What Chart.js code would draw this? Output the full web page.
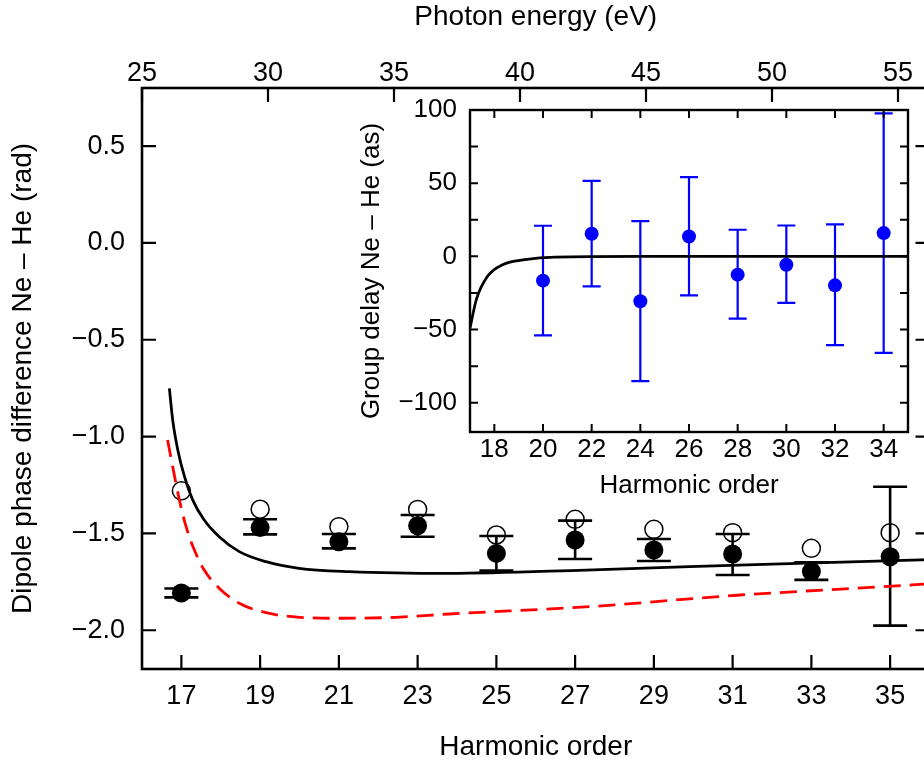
<!DOCTYPE html>
<html>
<head>
<meta charset="utf-8">
<script src="https://cdn.jsdelivr.net/npm/chart.js@4"></script>
<style>
  html, body { margin: 0; padding: 0; background: #fff; }
  body { width: 924px; height: 764px; overflow: hidden; position: relative; }
  #main { position: absolute; left: 0; top: 0; }
  #inset { position: absolute; left: 340px; top: 95px; }
</style>
</head>
<body>
<canvas id="main" width="940" height="764"></canvas>
<canvas id="inset" width="578" height="406"></canvas>
<script>
// main panel: dipole phase difference Ne - He (rad) vs harmonic order
const harmonics = [17, 19, 21, 23, 25, 27, 29, 31, 33, 35];
const phaseFilled = [-1.808, -1.47, -1.543, -1.46, -1.603, -1.534, -1.586, -1.606, -1.697, -1.62];
const phaseLow = [-1.83, -1.505, -1.577, -1.517, -1.692, -1.632, -1.642, -1.715, -1.74, -1.976];
const phaseHigh = [-1.784, -1.427, -1.503, -1.405, -1.513, -1.434, -1.529, -1.503, -1.649, -1.259];
const phaseOpen = [-1.28, -1.375, -1.465, -1.376, -1.508, -1.427, -1.479, -1.496, -1.577, -1.496];

// theory curves
const solidCurveX = [16.695, 16.78, 16.91, 17.08, 17.29, 17.58, 17.96, 18.47, 19.15, 19.99, 21.26, 23.8, 27.27, 32.0, 36];
const solidCurveY = [-0.751, -0.915, -1.07, -1.207, -1.328, -1.431, -1.517, -1.594, -1.646, -1.68, -1.697, -1.706, -1.689, -1.658, -1.635];
const dashedCurveX = [16.65, 16.78, 16.95, 17.12, 17.33, 17.58, 17.96, 18.47, 19.15, 19.99, 21.09, 22.45, 23.8, 27.36, 31.2, 35.56, 36];
const dashedCurveY = [-1.018, -1.156, -1.328, -1.465, -1.586, -1.689, -1.783, -1.861, -1.909, -1.933, -1.938, -1.933, -1.916, -1.878, -1.818, -1.766, -1.76];

const harmonicTicks = [17, 19, 21, 23, 25, 27, 29, 31, 33, 35];
const energyTicks = [25, 30, 35, 40, 45, 50, 55];
const phaseTicks = [-2.0, -1.5, -1.0, -0.5, 0.0, 0.5];
const eVPerHarmonic = 1.5625;

// inset: group delay Ne - He (as)
const delayHarmonics = [20, 22, 24, 26, 28, 30, 32, 34];
const groupDelay = [-16.6, 15.5, -30.7, 13.6, -12.5, -5.7, -19.8, 15.9];
const delayLow = [-54, -20.5, -85.2, -26.6, -42.5, -31.8, -60.7, -65.9];
const delayHigh = [20.9, 51.6, 24.1, 54.1, 18.2, 21.1, 21.8, 97.7];
const delayCurveX = [17, 17.26, 17.72, 18.34, 19.26, 20.5, 24, 35];
const delayCurveY = [-49, -29.5, -13.6, -5.7, -2.3, -0.5, 0, 0];
const insetXTicks = [18, 20, 22, 24, 26, 28, 30, 32, 34];
const insetYTicks = [-100, -75, -50, -25, 0, 25, 50, 75, 100];

const FONT = "'Liberation Sans', Arial, Helvetica, sans-serif";
const minus = s => String(s).replace('-', '\u2212');
const pts = (xs, ys) => xs.map((x, i) => ({x: x, y: ys[i]}));

// inward tick marks and frame box
const innerTicks = {
  id: 'innerTicks',
  afterDraw(chart, args, opts) {
    const ctx = chart.ctx, a = chart.chartArea;
    ctx.save();
    ctx.strokeStyle = '#000';
    ctx.lineWidth = opts.width;
    Object.values(chart.scales).forEach(scale => {
      scale.ticks.forEach(t => {
        const p = scale.getPixelForValue(t.value);
        ctx.beginPath();
        if (scale.isHorizontal()) {
          if (scale.position === 'bottom' || opts.mirrorX) { ctx.moveTo(p, a.bottom); ctx.lineTo(p, a.bottom - opts.len); }
          if (scale.position === 'top' || opts.mirrorX) { ctx.moveTo(p, a.top); ctx.lineTo(p, a.top + opts.len); }
        } else {
          ctx.moveTo(a.left, p); ctx.lineTo(a.left + opts.len, p);
          ctx.moveTo(a.right, p); ctx.lineTo(a.right - opts.len, p);
        }
        ctx.stroke();
      });
    });
    ctx.lineWidth = opts.frame;
    ctx.strokeRect(a.left, a.top, a.right - a.left, a.bottom - a.top);
    ctx.restore();
  }
};

// vertical error bars with caps, from errLow / errHigh on a dataset
const errorBars = {
  id: 'errorBars',
  beforeDatasetsDraw(chart) {
    const ctx = chart.ctx;
    const xs = chart.scales.x, ys = chart.scales.y;
    ctx.save();
    chart.data.datasets.forEach(ds => {
      if (!ds.errLow) return;
      ctx.strokeStyle = ds.errColor;
      ctx.lineWidth = ds.errWidth;
      ds.data.forEach((d, i) => {
        const x = xs.getPixelForValue(d.x);
        const yl = ys.getPixelForValue(ds.errLow[i]);
        const yh = ys.getPixelForValue(ds.errHigh[i]);
        ctx.beginPath();
        ctx.moveTo(x, yl); ctx.lineTo(x, yh);
        ctx.moveTo(x - ds.capHalf, yl); ctx.lineTo(x + ds.capHalf, yl);
        ctx.moveTo(x - ds.capHalf, yh); ctx.lineTo(x + ds.capHalf, yh);
        ctx.stroke();
      });
    });
    ctx.restore();
  }
};

new Chart(document.getElementById('main'), {
  type: 'scatter',
  data: {
    datasets: [
      {
        data: pts(solidCurveX, solidCurveY), showLine: true, borderColor: '#000', borderWidth: 2.8,
        pointRadius: 0, cubicInterpolationMode: 'monotone', fill: false
      },
      {
        data: pts(dashedCurveX, dashedCurveY), showLine: true, borderColor: '#ff0000', borderWidth: 2.8,
        borderDash: [17, 9], pointRadius: 0, cubicInterpolationMode: 'monotone', fill: false
      },
      {
        data: pts(harmonics, phaseOpen), pointRadius: 9, pointBorderWidth: 1.5,
        pointBorderColor: '#000', pointBackgroundColor: 'rgba(0,0,0,0)'
      },
      {
        data: pts(harmonics, phaseFilled), pointRadius: 9.5, pointBorderWidth: 0,
        pointBackgroundColor: '#000', pointBorderColor: '#000',
        errLow: phaseLow, errHigh: phaseHigh, errColor: '#000', errWidth: 2.6, capHalf: 17
      }
    ]
  },
  options: {
    responsive: false,
    animation: false,
    layout: { padding: { left: 0, right: 10, top: 0, bottom: 0 } },
    plugins: {
      legend: { display: false },
      tooltip: { enabled: false },
      innerTicks: { len: 14, width: 2.2, frame: 2.6, mirrorX: false }
    },
    scales: {
      x: {
        type: 'linear', position: 'bottom', min: 16, max: 36,
        grid: { display: false, drawTicks: false }, border: { display: false },
        afterBuildTicks: s => { s.ticks = harmonicTicks.map(v => ({value: v})); },
        afterFit: s => { s.height = 95; },
        ticks: { autoSkip: false, maxRotation: 0, padding: 11, color: '#000', font: { family: FONT, size: 27 } },
        title: { display: true, text: 'Harmonic order', color: '#000', font: { family: FONT, size: 28 }, padding: { top: 0, bottom: 0 } }
      },
      xTop: {
        type: 'linear', position: 'top', min: 16 * eVPerHarmonic, max: 36 * eVPerHarmonic,
        grid: { display: false, drawTicks: false }, border: { display: false },
        afterBuildTicks: s => { s.ticks = energyTicks.map(v => ({value: v})); },
        afterFit: s => { s.height = 88; },
        ticks: { autoSkip: false, maxRotation: 0, padding: 1, color: '#000', font: { family: FONT, size: 27, lineHeight: 1 } },
        title: { display: true, text: 'Photon energy (eV)', color: '#000', font: { family: FONT, size: 28 }, padding: { top: 0, bottom: 0 } }
      },
      y: {
        type: 'linear', position: 'left', min: -2.2, max: 0.8,
        grid: { display: false, drawTicks: false }, border: { display: false },
        afterBuildTicks: s => { s.ticks = phaseTicks.map(v => ({value: v})); },
        afterFit: s => { s.width = 142; },
        ticks: { padding: 17, color: '#000', font: { family: FONT, size: 27 }, callback: v => minus(v.toFixed(1)) },
        title: { display: true, text: 'Dipole phase difference Ne \u2013 He (rad)', color: '#000', font: { family: FONT, size: 28 }, padding: { top: 6, bottom: 0 } }
      }
    }
  },
  plugins: [errorBars, innerTicks]
});

new Chart(document.getElementById('inset'), {
  type: 'scatter',
  data: {
    datasets: [
      {
        data: pts(delayCurveX, delayCurveY), showLine: true, borderColor: '#000', borderWidth: 2.8,
        pointRadius: 0, cubicInterpolationMode: 'monotone', fill: false
      },
      {
        data: pts(delayHarmonics, groupDelay), pointRadius: 7, pointBorderWidth: 0,
        pointBackgroundColor: '#0000ff', pointBorderColor: '#0000ff',
        errLow: delayLow, errHigh: delayHigh, errColor: '#0000ff', errWidth: 2.2, capHalf: 9
      }
    ]
  },
  options: {
    responsive: false,
    animation: false,
    layout: { padding: { left: 0, right: 10, top: 15, bottom: 0 } },
    plugins: {
      legend: { display: false },
      tooltip: { enabled: false },
      innerTicks: { len: 8, width: 2, frame: 2.4, mirrorX: true }
    },
    scales: {
      x: {
        type: 'linear', position: 'bottom', min: 17, max: 35,
        grid: { display: false, drawTicks: false }, border: { display: false },
        afterBuildTicks: s => { s.ticks = insetXTicks.map(v => ({value: v})); },
        afterFit: s => { s.height = 69; s.paddingLeft = 0; s.paddingRight = 0; },
        ticks: { autoSkip: false, maxRotation: 0, padding: 2, color: '#000', font: { family: FONT, size: 26 } },
        title: { display: true, text: 'Harmonic order', color: '#000', font: { family: FONT, size: 26 }, padding: { top: 0, bottom: 0 } }
      },
      y: {
        type: 'linear', position: 'left', min: -120, max: 100,
        grid: { display: false, drawTicks: false }, border: { display: false },
        afterBuildTicks: s => { s.ticks = insetYTicks.map(v => ({value: v})); },
        afterFit: s => { s.width = 130; s.paddingTop = 0; s.paddingBottom = 0; },
        ticks: { autoSkip: false, padding: 13, color: '#000', font: { family: FONT, size: 26 }, callback: v => (v % 50 === 0 ? minus(v) : '') },
        title: { display: true, text: 'Group delay Ne \u2013 He (as)', color: '#000', font: { family: FONT, size: 26 }, padding: { top: 16, bottom: 0 } }
      }
    }
  },
  plugins: [errorBars, innerTicks]
});
</script>
</body>
</html>
